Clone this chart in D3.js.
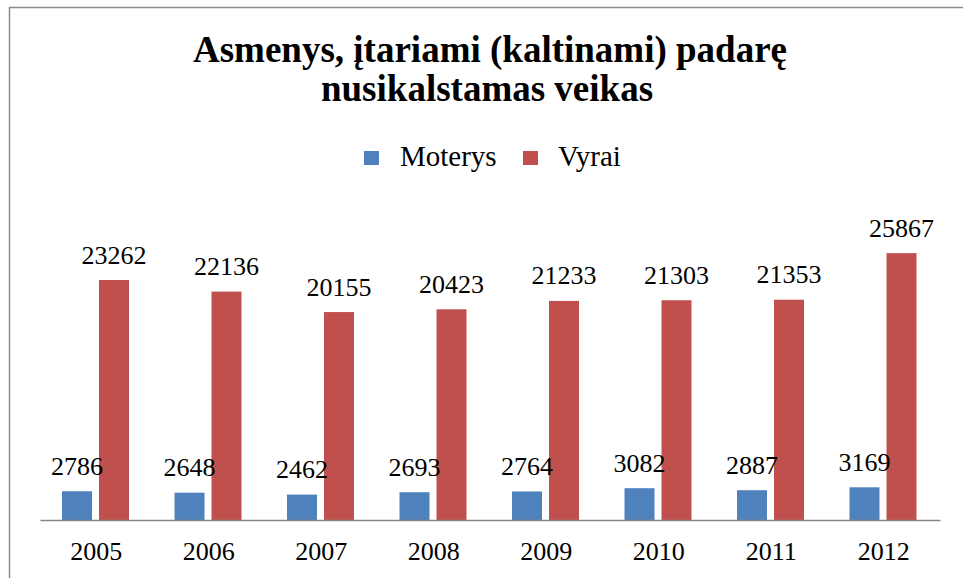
<!DOCTYPE html>
<html>
<head>
<meta charset="utf-8">
<script src="https://cdn.jsdelivr.net/npm/d3@7"></script>
</head>
<body style="margin:0; background:#fff">
<script>
// Chart data
var years = ["2005", "2006", "2007", "2008", "2009", "2010", "2011", "2012"];
var seriesNames = ["Moterys", "Vyrai"];
var moterys = [2786, 2648, 2462, 2693, 2764, 3082, 2887, 3169];
var vyrai = [23262, 22136, 20155, 20423, 21233, 21303, 21353, 25867];
var seriesColors = ["#4F81BD", "#C0504D"];

var svgWidth = 963;
var svgHeight = 578;
var serif = "Liberation Serif";

// plot area
var plot = { left: 40, right: 940, top: 210.5, bottom: 520 };

var svg = d3.select("body")
  .append("svg")
  .attr("width", svgWidth)
  .attr("height", svgHeight)
  .attr("font-family", serif);

// outer frame (only left/top edges visible in the picture)
svg.append("rect")
  .attr("x", 9.5)
  .attr("y", 7.5)
  .attr("width", 1000)
  .attr("height", 620)
  .attr("fill", "none")
  .attr("stroke", "#8c8c8c")
  .attr("stroke-width", 1.5);

// title
var title = svg.append("text")
  .attr("text-anchor", "middle")
  .attr("font-family", serif)
  .attr("font-size", 37)
  .attr("font-weight", "bold");
title.append("tspan").attr("x", 490).attr("y", 62).text("Asmenys, įtariami (kaltinami) padarę");
title.append("tspan").attr("x", 487).attr("y", 101).text("nusikalstamas veikas");

// scales
var x0 = d3.scaleBand()
  .domain(years)
  .range([plot.left, plot.right])
  .padding(0);

var x1 = d3.scaleBand()
  .domain(seriesNames)
  .range([22, 89])
  .paddingInner(7 / 37);

var y = d3.scaleLinear()
  .domain([0, 30000])
  .range([plot.bottom, plot.top]);

var rows = years.map(function(yr, i) {
  return { year: yr, values: [moterys[i], vyrai[i]] };
});

var groups = svg.selectAll(".year")
  .data(rows)
  .enter()
  .append("g")
  .attr("class", "year")
  .attr("transform", d => `translate(${x0(d.year)},0)`);

groups.selectAll("rect")
  .data(d => d.values.map((v, j) => ({ name: seriesNames[j], value: v, color: seriesColors[j] })))
  .enter()
  .append("rect")
  .attr("x", d => x1(d.name))
  .attr("y", d => y(d.value))
  .attr("width", x1.bandwidth())
  .attr("height", d => plot.bottom - y(d.value))
  .attr("fill", d => d.color);

// value labels
groups.selectAll(".val")
  .data(d => d.values.map((v, j) => ({ name: seriesNames[j], value: v })))
  .enter()
  .append("text")
  .attr("class", "val")
  .attr("x", d => x1(d.name) + x1.bandwidth() / 2)
  .attr("y", d => y(d.value) - 16.5)
  .attr("text-anchor", "middle")
  .attr("font-family", serif)
  .attr("font-size", 26)
  .text(d => d.value);

// x axis
var xAxis = svg.append("g")
  .attr("transform", `translate(0,${plot.bottom})`)
  .call(d3.axisBottom(x0).tickSize(0).tickPadding(0))
  .attr("font-family", serif)
  .attr("font-size", 26);
xAxis.select(".domain")
  .attr("stroke", "#868686")
  .attr("stroke-width", 1.5);
xAxis.selectAll("text")
  .attr("y", 40)
  .attr("dy", null)
  .attr("fill", "#000");

// legend
var legendItems = [
  { name: seriesNames[0], color: seriesColors[0], sx: 364, tx: 400 },
  { name: seriesNames[1], color: seriesColors[1], sx: 523, tx: 558 }
];
var legend = svg.append("g");
legend.selectAll("rect")
  .data(legendItems)
  .enter()
  .append("rect")
  .attr("x", d => d.sx)
  .attr("y", 151)
  .attr("width", 15)
  .attr("height", 14)
  .attr("fill", d => d.color);
legend.selectAll("text")
  .data(legendItems)
  .enter()
  .append("text")
  .attr("x", d => d.tx)
  .attr("y", 166)
  .attr("font-family", serif)
  .attr("font-size", 29)
  .text(d => d.name);
</script>
</body>
</html>
